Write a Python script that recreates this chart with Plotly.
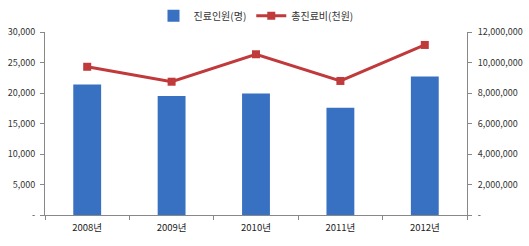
import plotly.graph_objects as go

years = ["2008년", "2009년", "2010년", "2011년", "2012년"]
patients = [21400, 19500, 19900, 17600, 22700]
costs = [9720000, 8740000, 10540000, 8790000, 11150000]

left_ticks = [0, 5000, 10000, 15000, 20000, 25000, 30000]
left_text = ["-", "5,000", "10,000", "15,000", "20,000", "25,000", "30,000"]
right_ticks = [0, 2000000, 4000000, 6000000, 8000000, 10000000, 12000000]
right_text = ["-", "2,000,000", "4,000,000", "6,000,000", "8,000,000", "10,000,000", "12,000,000"]

font = "Noto Sans CJK KR, Noto Sans, sans-serif"

fig = go.Figure()
fig.add_trace(go.Bar(
    x=years, y=patients, name="진료인원(명)",
    marker=dict(color="#3870c2", line=dict(width=0)),
    width=0.33, yaxis="y",
))
fig.add_trace(go.Scatter(
    x=years, y=costs, name="총진료비(천원)", mode="lines+markers",
    line=dict(color="#c0393b", width=3),
    marker=dict(symbol="square", size=8, color="#c0393b"),
    yaxis="y2",
))

fig.update_layout(
    width=529, height=246,
    margin=dict(l=45, r=62, t=32, b=31, autoexpand=False),
    paper_bgcolor="white", plot_bgcolor="white",
    font=dict(family=font, size=9, color="#333333"),
    showlegend=True,
    legend=dict(orientation="h", x=0.5, xanchor="center", y=0.995, yanchor="top",
                yref="container", font=dict(size=10, color="#333333"),
                tracegroupgap=0),
    xaxis=dict(
        showline=True, linecolor="#888888", linewidth=1,
        ticks="outside", ticklen=4, tickcolor="#888888", tickson="boundaries",
        showgrid=False, tickfont=dict(size=9.5, color="#222222"),
        ticklabelstandoff=4,
    ),
    yaxis=dict(
        range=[0, 30000], tickvals=left_ticks, ticktext=left_text,
        showline=True, linecolor="#888888", linewidth=1,
        ticks="outside", ticklen=4, tickcolor="#888888",
        showgrid=False, zeroline=False, tickfont=dict(size=9, color="#333333"),
        ticklabelstandoff=3,
    ),
    yaxis2=dict(
        range=[0, 12000000], tickvals=right_ticks, ticktext=right_text,
        overlaying="y", side="right",
        showline=True, linecolor="#888888", linewidth=1,
        ticks="outside", ticklen=4, tickcolor="#888888",
        showgrid=False, zeroline=False, tickfont=dict(size=9, color="#333333"),
        ticklabelstandoff=4,
    ),
)

fig.write_html("out.html")
